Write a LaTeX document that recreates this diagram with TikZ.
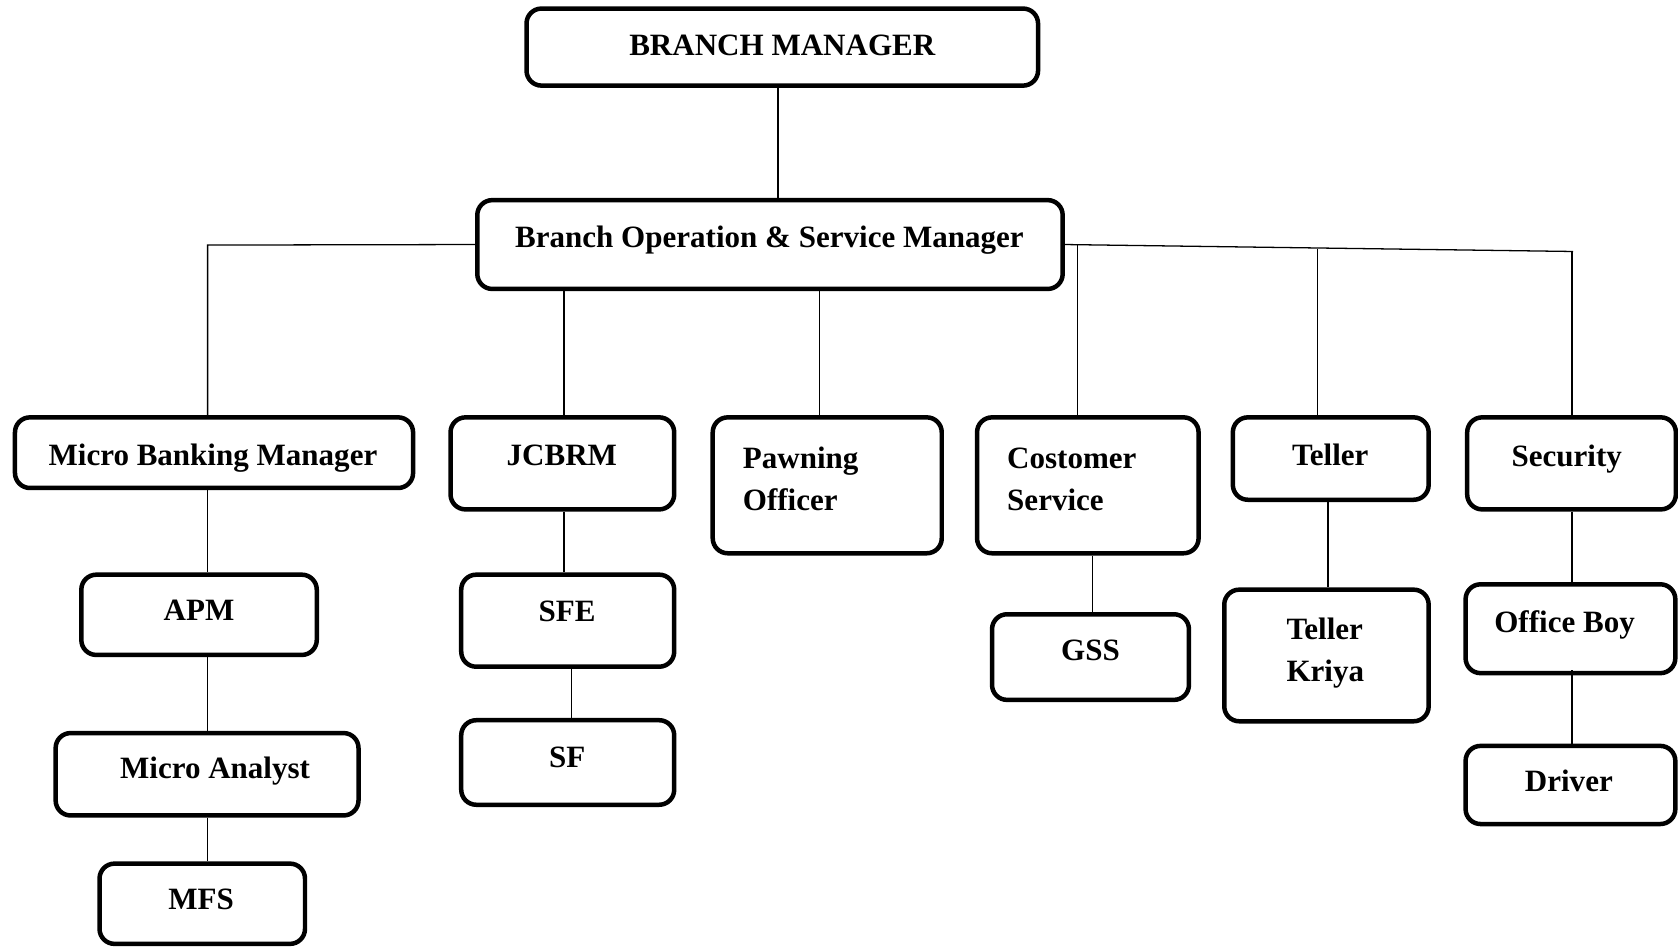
\documentclass[tikz,border=0pt]{standalone}
\usepackage{fontspec}
\setmainfont{Liberation Serif}
\begin{document}
\begin{tikzpicture}[x=1pt,y=-1pt,
  box/.style={draw,line width=4.2pt,rounded corners=14pt,inner sep=0pt},
  lbl/.style={font=\bfseries\fontsize{29}{39}\selectfont,inner sep=0pt,anchor=base},
  lbll/.style={lbl,anchor=base west,align=left},
  conn/.style={line width=1.2pt}]
\useasboundingbox (0,0) rectangle (1568,885);
% boxes
\node[box,minimum width=478pt,minimum height=72pt] (bm) at (731,44) {};
\node[box,minimum width=547pt,minimum height=83pt] (bosm) at (719.5,228.5) {};
\node[box,minimum width=372pt,minimum height=66pt] (mbm) at (200,423) {};
\node[box,minimum width=209pt,minimum height=86pt] (jcbrm) at (525.5,433) {};
\node[box,minimum width=214pt,minimum height=127pt] (pawn) at (773,453.5) {};
\node[box,minimum width=207pt,minimum height=127pt] (cs) at (1016.5,453.5) {};
\node[box,minimum width=183pt,minimum height=77pt] (teller) at (1243.5,428.5) {};
\node[box,minimum width=195pt,minimum height=86pt] (sec) at (1468.5,433) {};
\node[box,minimum width=220pt,minimum height=75pt] (apm) at (186,574.5) {};
\node[box,minimum width=283pt,minimum height=77pt] (ma) at (193.5,723.5) {};
\node[box,minimum width=192pt,minimum height=75pt] (mfs) at (189,844.5) {};
\node[box,minimum width=199pt,minimum height=86pt] (sfe) at (530.5,580) {};
\node[box,minimum width=199pt,minimum height=79pt] (sf) at (530.5,712.5) {};
\node[box,minimum width=184pt,minimum height=80pt] (gss) at (1019,614) {};
\node[box,minimum width=191pt,minimum height=123pt] (tk) at (1239.5,612.5) {};
\node[box,minimum width=196pt,minimum height=83pt] (ob) at (1467.5,587.5) {};
\node[box,minimum width=196pt,minimum height=73pt] (drv) at (1467.5,733.5) {};
% labels
\node[lbl] (tbm) at (731,52) {BRANCH MANAGER};
\node[lbl] (tbosm) at (719,231) {Branch Operation \& Service Manager};
\node[lbl] (tmbm) at (199,435) {Micro Banking Manager};
\node[lbl] (tjc) at (525,435) {JCBRM};
\node[lbll] (tpawn) at (694,477) {Pawning\\Officer};
\node[lbll] (tcs) at (941,477) {Costomer\\Service};
\node[lbl] (tte) at (1243,435) {Teller};
\node[lbl] (tsec) at (1464,436) {Security};
\node[lbl] (tapm) at (186,580) {APM};
\node[lbl] (tma) at (201,727) {Micro Analyst};
\node[lbl] (tmfs) at (188,850) {MFS};
\node[lbl] (tsfe) at (530,581) {SFE};
\node[lbl] (tsf) at (530,717) {SF};
\node[lbl] (tgss) at (1019,617) {GSS};
\node[lbll] (ttk) at (1202,637) {Teller\\Kriya};
\node[lbl] (tob) at (1462,591) {Office Boy};
\node[lbl] (tdrv) at (1466,740) {Driver};
% coordinates
\coordinate (x727) at (727,0);
\coordinate (x194) at (194,0);
\coordinate (x527) at (527,0);
\coordinate (x534) at (534,0);
\coordinate (x766) at (766,0);
\coordinate (x1021) at (1021,0);
\coordinate (x1241) at (1241,0);
\coordinate (x1469) at (1469,0);
\coordinate (lc) at (194,229);
\coordinate (r1) at (1007,229.3);
\coordinate (r2) at (1231,233);
\coordinate (r3) at (1470,235);
% connectors
\draw[conn] (bm.south -| x727) -- (bosm.north -| x727);
\draw[conn] (bosm.west) -- (lc) -- (mbm.north -| x194);
\draw[conn] (bosm.south -| x527) -- (jcbrm.north -| x527);
\draw[conn] (bosm.south -| x766) -- (pawn.north -| x766);
\draw[conn] (bosm.east) -- (r3);
\draw[conn] (r1) -- (cs.north -| r1);
\draw[conn] (r2) -- (teller.north -| r2);
\draw[conn] (r3 -| x1469) -- (sec.north -| x1469);
\draw[conn] (mbm.south -| x194) -- (apm.north -| x194);
\draw[conn] (apm.south -| x194) -- (ma.north -| x194);
\draw[conn] (ma.south -| x194) -- (mfs.north -| x194);
\draw[conn] (jcbrm.south -| x527) -- (sfe.north -| x527);
\draw[conn] (sfe.south -| x534) -- (sf.north -| x534);
\draw[conn] (cs.south -| x1021) -- (gss.north -| x1021);
\draw[conn] (teller.south -| x1241) -- (tk.north -| x1241);
\draw[conn] (sec.south -| x1469) -- (ob.north -| x1469);
\draw[conn] ([yshift=5pt]ob.south -| x1469) -- (drv.north -| x1469);
\end{tikzpicture}
\end{document}
